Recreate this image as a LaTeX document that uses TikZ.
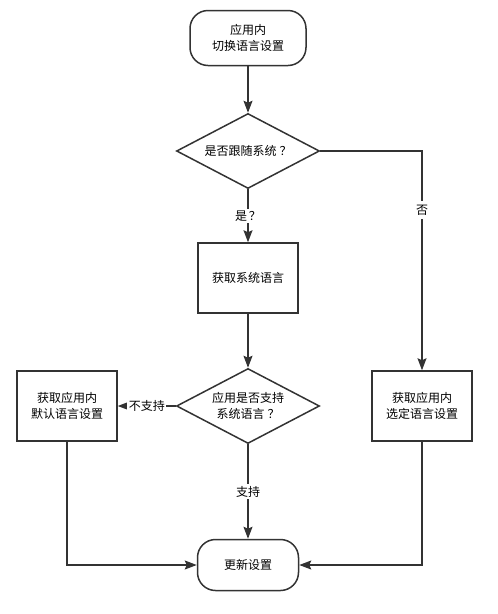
\documentclass[tikz,border=0pt]{standalone}
\usepackage{fontspec}
\usepackage{tikz}
\usetikzlibrary{shapes.geometric,arrows.meta}
\newfontfamily\cjk{Noto Sans CJK SC}
\definecolor{linegray}{HTML}{333333}

\begin{document}
\begin{tikzpicture}[x=1pt,y=-1pt,
	font=\cjk\fontsize{12}{16}\selectfont,
	every node/.style={text=black},
	term/.style={draw=linegray,line width=1.5pt,rounded corners=18pt,align=center},
	box/.style={draw=linegray,line width=1.5pt,minimum width=100pt,minimum height=70pt,align=center},
	ask/.style={draw=linegray,line width=1.5pt,shape=diamond,aspect=2,inner sep=0pt,
		minimum width=143pt,minimum height=75pt,align=center},
	lbl/.style={fill=white,inner sep=1.5pt},
	wire/.style={draw=linegray,line width=1.5pt},
	arr/.style={wire,-{Stealth[length=12pt,width=9pt,inset=2pt]}}]
	\useasboundingbox (0,0) rectangle (498,614);

	\node[term,minimum width=116pt,minimum height=55pt] (1) at (248,38) {应用内\\切换语言设置};
	\node[ask] (2) at (248,151) {是否跟随系统\hspace{3pt}？};
	\node[box] (3) at (248,278) {获取系统语言};
	\node[ask] (4) at (248,406) {应用是否支持\\系统语言\hspace{3pt}？};
	\node[box] (5) at (67,406) {获取应用内\\默认语言设置};
	\node[term,minimum width=101pt,minimum height=51pt] (6) at (248,565) {更新设置};
	\node[box] (7) at (422,406) {获取应用内\\选定语言设置};
	\node[inner sep=0pt] (8) at (422,210) {\mbox{否}};
	% gap round the label
	\coordinate (8a) at (422,201);
	\coordinate (8b) at (422,219);

	\path [every edge/.style={arr}]
	(1) edge (2)
	(2) edge node[lbl] {是\hspace{2pt}？} (3)
	(3) edge (4)
	(4.west) edge node[lbl] {不支持} (5.east)
	(4) edge node[lbl] {支持} (6)
	(8b) edge (7.north);

	% bent connectors
	\draw[wire] (2.east) -| (8a);
	\draw[arr] (5.south) |- (6.west);
	\draw[arr] (7.south) |- (6.east);
\end{tikzpicture}
\end{document}
